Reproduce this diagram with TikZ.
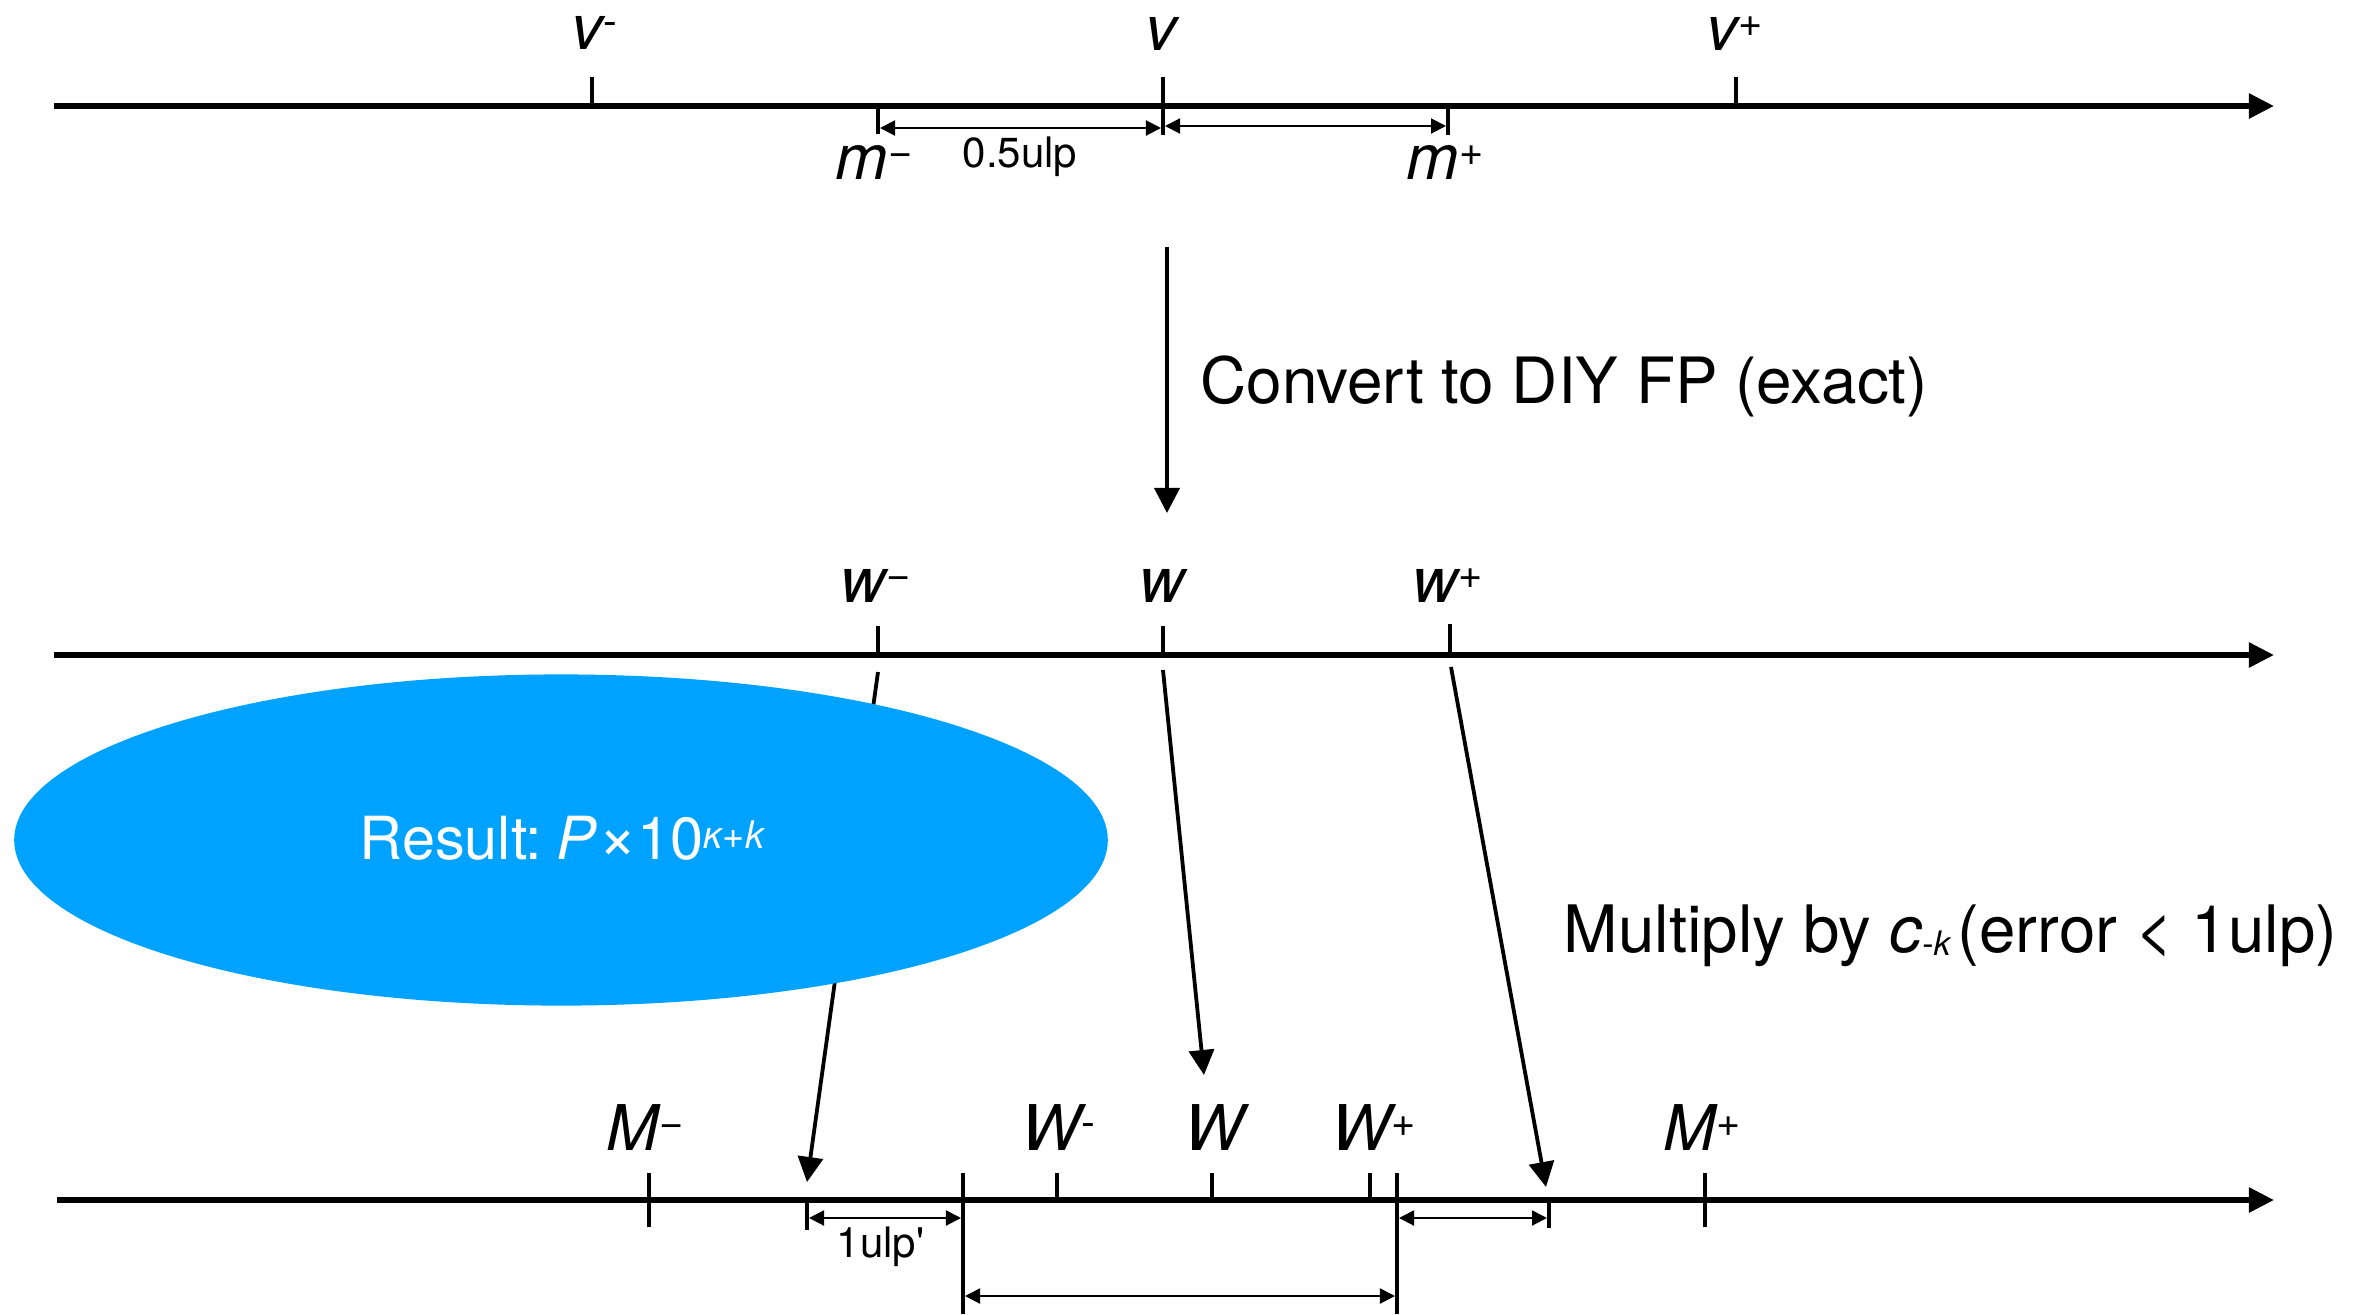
\documentclass[tikz,border=0pt]{standalone}
\usepackage{fontspec}
\setmainfont{TeX Gyre Heros}[Ligatures=TeXOff]
\usetikzlibrary{arrows.meta,shapes.geometric}
\definecolor{kblue}{RGB}{0,162,255}
\newcommand\fbig{\fontsize{17.93pt}{21pt}\selectfont}
\newcommand\fconv{\fontsize{18.15pt}{21pt}\selectfont}
\newcommand\fmul{\fontsize{18.6pt}{22pt}\selectfont}
\newcommand\fres{\fontsize{16.9pt}{20pt}\selectfont}
\newcommand\fsmall{\fontsize{11.95pt}{14pt}\selectfont}
\newcommand\fsupsz{\fontsize{11.8pt}{13pt}\selectfont}
\newcommand\fressup{\fontsize{10.8pt}{12pt}\selectfont}
\newcommand\fsubsz{\fontsize{9.6pt}{11pt}\selectfont}
\newcommand\supmark[1]{\raisebox{0.14cm}{\fsupsz\upshape #1}}
\newcommand\minussign{\char"2212\relax}
\begin{document}
\begin{tikzpicture}[x=0.01cm,y=-0.01cm,
  axis/.style={line width=0.055cm,-{Triangle[length=0.25cm,width=0.24cm]}},
  tickmark/.style={line width=0.035cm},
  longtick/.style={line width=0.04cm},
  dimarrow/.style={line width=0.02cm,{Triangle[length=0.15cm,width=0.15cm]}-{Triangle[length=0.15cm,width=0.15cm]}},
  conn/.style={line width=0.038cm,-{Triangle[length=0.25cm,width=0.25cm]}},
  lab/.style={anchor=base west,inner sep=0pt,font=\fbig},
  small/.style={anchor=base west,inner sep=0pt,font=\fsmall}]
\useasboundingbox (0,0) rectangle (2374,1314);

% ---------- top axis ----------
\coordinate (a1s) at (54,106);
\coordinate (a1e) at (2274,106);
\draw[axis] (a1s) -- (a1e);
\draw[tickmark] (592,77) -- (592,106);
\draw[tickmark] (1163,77) -- (1163,135);
\draw[tickmark] (1736,77) -- (1736,106);
\draw[tickmark] (878,106) -- (878,134);
\draw[tickmark] (1448,106) -- (1448,135);
\coordinate (d1a) at (880,128);
\coordinate (d1b) at (1161,128);
\coordinate (d2a) at (1165,126);
\coordinate (d2b) at (1446,126);
\draw[dimarrow] (d1a) -- (d1b);
\draw[dimarrow] (d2a) -- (d2b);

% ---------- middle axis ----------
\coordinate (a2s) at (54,655);
\coordinate (a2e) at (2274,655);
\draw[axis] (a2s) -- (a2e);
\draw[tickmark] (878,626) -- (878,655);
\draw[tickmark] (1163,626) -- (1163,655);
\draw[tickmark] (1450,624) -- (1450,655);

% ---------- bottom axis ----------
\coordinate (a3s) at (57,1200);
\coordinate (a3e) at (2274,1200);
\draw[axis] (a3s) -- (a3e);
\draw[tickmark] (649,1173) -- (649,1227);
\draw[tickmark] (807,1200) -- (807,1230);
\draw[longtick] (963,1173) -- (963,1314);
\draw[tickmark] (1057,1173) -- (1057,1200);
\draw[tickmark] (1212,1173) -- (1212,1200);
\draw[tickmark] (1370,1173) -- (1370,1200);
\draw[longtick] (1397,1173) -- (1397,1314);
\draw[tickmark] (1549,1200) -- (1549,1228);
\draw[tickmark] (1705,1173) -- (1705,1227);
\coordinate (d3a) at (809,1218);
\coordinate (d3b) at (961,1218);
\coordinate (d4a) at (1399,1218);
\coordinate (d4b) at (1547,1218);
\coordinate (d5a) at (965,1296);
\coordinate (d5b) at (1395,1296);
\draw[dimarrow] (d3a) -- (d3b);
\draw[dimarrow] (d4a) -- (d4b);
\draw[dimarrow] (d5a) -- (d5b);

% ---------- connectors ----------
\coordinate (cvs) at (1167,247);
\coordinate (cve) at (1167,513);
\draw[conn] (cvs) -- (cve);
\coordinate (wms) at (878,672);
\coordinate (wme) at (807,1182);
\coordinate (w0s) at (1163,670);
\coordinate (w0e) at (1204,1075);
\coordinate (wps) at (1451,667);
\coordinate (wpe) at (1546,1187);
\draw[conn] (wms) -- (wme);
\draw[conn] (w0s) -- (w0e);
\draw[conn] (wps) -- (wpe);

% ---------- result ellipse ----------
\node[ellipse,fill=kblue,draw=none,inner sep=0pt,minimum width=10.93cm,minimum height=3.31cm] (result) at (561,840) {};
\node[anchor=base west,inner sep=0pt,font=\fres,text=white] (tres) at (359,859)
  {Result:\hspace{0.14cm}\textit{P}\hspace{0.02cm}{\fontsize{19pt}{20pt}\selectfont ×}10\raisebox{0.11cm}{\fressup\itshape κ+k}};

% ---------- labels ----------
\node[lab] (lvm) at (571,49) {\itshape v\supmark{-}};
\node[lab,anchor=base] (lv) at (1161,50) {\itshape v};
\node[lab] (lvp) at (1706,50) {\itshape v\supmark{+}};
\node[lab] (lmm) at (835,179) {\itshape m\supmark{\minussign}};
\node[lab] (lmp) at (1406,179) {\itshape m\supmark{+}};
\node[small] (l05) at (962,167) {0.5ulp};

\node[lab] (lwm) at (840,602) {\itshape w\supmark{\minussign}};
\node[lab,anchor=base] (lw) at (1162,602) {\itshape w};
\node[lab] (lwp) at (1412,602) {\itshape w\supmark{+}};

\node[lab] (lMm) at (606,1150) {\itshape M\supmark{\minussign}};
\node[lab] (lWm) at (1021,1150) {\itshape W\supmark{-}};
\node[lab,anchor=base] (lW) at (1214,1150) {\itshape W};
\node[lab] (lWp) at (1331,1150) {\itshape W\supmark{+}};
\node[lab] (lMp) at (1663,1150) {\itshape M\supmark{+}};
\node[small] (l1u) at (836,1257) {1ulp'};

\node[lab,font=\fconv] (tconv) at (1200,403) {Convert to DIY FP (exact)};
\node[lab,font=\fmul] (tmul) at (1563,952)
  {Multiply by \textit{c}\raisebox{-0.03cm}{\fsubsz -\textit{k}}\hspace{0.06cm}(error < 1ulp)};
\end{tikzpicture}
\end{document}
